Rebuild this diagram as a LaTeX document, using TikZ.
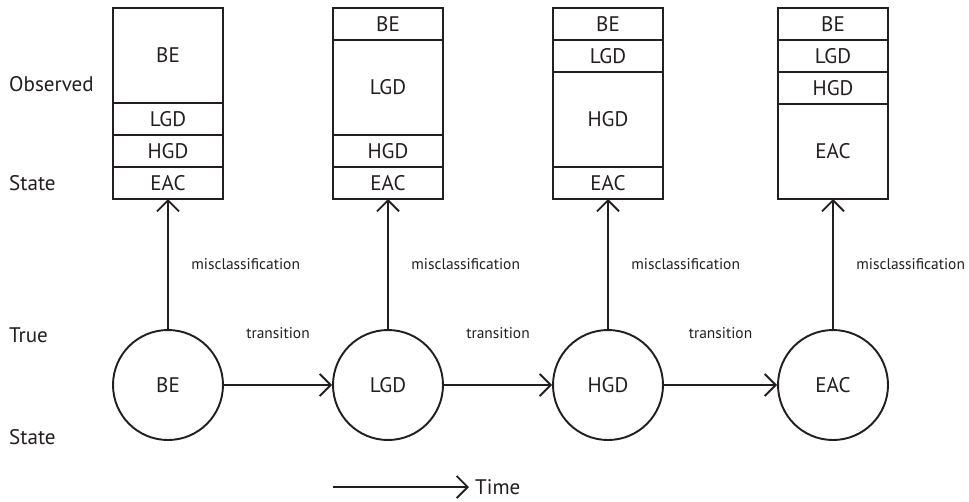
\documentclass[tikz,border=0pt]{standalone}
\usepackage{fontspec}
\setmainfont{PT Sans}
\usetikzlibrary{arrows.meta,positioning}
\definecolor{ink}{HTML}{231F20}
\tikzset{
  cell/.style={draw=ink, line width=1.1pt, minimum width=2.2cm, minimum height=0.64cm, inner sep=0pt, outer sep=0pt, text=ink, font=\fontsize{12}{14}\selectfont},
  bigcell/.style={cell, minimum height=1.9cm},
  state/.style={draw=ink, circle, line width=1.1pt, minimum size=2.2cm, inner sep=0pt, text=ink, font=\fontsize{12}{14}\selectfont},
  link/.style={draw=ink, line width=1.1pt, -{Straight Barb[length=0.22cm, width=0.44cm, line width=1.1pt]}},
  lbl/.style={text=ink, font=\fontsize{12}{14}\selectfont},
  small/.style={text=ink, font=\fontsize{8.8}{10}\selectfont}
}
\begin{document}
\begin{tikzpicture}[x=0.02cm, y=-0.02cm]
  \useasboundingbox (0,0) rectangle (969,501);
  \node[lbl, anchor=west] (obs) at (3,84) {Observed}; %Etat observe
  \node[lbl, anchor=west] (obs2) at (3,183) {State};
  \node[lbl, anchor=west] (tru) at (3,335) {True}; %Etat vrai
  \node[lbl, anchor=west] (tru2) at (3,437) {State};
  % colonne 1
  \node[bigcell] (be1) at (168,55.5) {BE};
  \node[cell] (lgd1) at (168,119) {LGD};
  \node[cell] (hgd1) at (168,151) {HGD};
  \node[cell] (eac1) at (168,183) {EAC};
  % colonne 2
  \node[cell] (be2) at (388,24) {BE};
  \node[bigcell] (lgd2) at (388,87.5) {LGD};
  \node[cell] (hgd2) at (388,151) {HGD};
  \node[cell] (eac2) at (388,183) {EAC};
  % colonne 3
  \node[cell] (be3) at (608,24) {BE};
  \node[cell] (lgd3) at (608,56) {LGD};
  \node[bigcell] (hgd3) at (608,119.5) {HGD};
  \node[cell] (eac3) at (608,183) {EAC};
  % colonne 4
  \node[cell] (be4) at (833,24) {BE};
  \node[cell] (lgd4) at (833,56) {LGD};
  \node[cell] (hgd4) at (833,88) {HGD};
  \node[bigcell] (eac4) at (833,151.5) {EAC};
  % etats vrais
  \node[state] (tbe) at (168,385) {BE};
  \node[state] (tlgd) at (388,385) {LGD};
  \node[state] (thgd) at (608,385) {HGD};
  \node[state] (teac) at (833,385) {EAC};
  \draw[link] (tbe) -- node[small, midway, right=0.33cm] {misclassification} (eac1);
  \draw[link] (tlgd) -- node[small, midway, right=0.33cm] {misclassification} (eac2);
  \draw[link] (thgd) -- node[small, midway, right=0.33cm] {misclassification} (eac3);
  \draw[link] (teac) -- node[small, midway, right=0.33cm] {misclassification} (eac4);
  \draw[link] (tbe) -- node[small, midway, above=0.8cm] {transition} (tlgd);
  \draw[link] (tlgd) -- node[small, midway, above=0.8cm] {transition} (thgd);
  \draw[link] (thgd) -- node[small, midway, above=0.8cm] {transition} (teac);
  \coordinate (tstart) at (333,487); %Temps
  \node[lbl, anchor=west] (time) at (469,487) {Time};
  \draw[link] (tstart) -- (time);
\end{tikzpicture}
\end{document}
